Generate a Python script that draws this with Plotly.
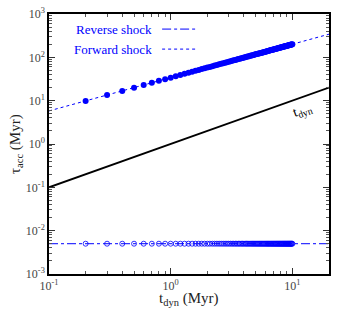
import plotly.graph_objects as go

# ---- data ----
t_points = [0.2, 0.3, 0.4, 0.5, 0.6, 0.7, 0.8, 0.9, 1.0,
            1.1, 1.2, 1.3, 1.4, 1.5, 1.6, 1.7, 1.8, 1.9, 2.0,
            2.1, 2.2, 2.3, 2.4, 2.5, 2.6, 2.7, 2.8, 2.9, 3.0,
            3.1, 3.2, 3.3, 3.4, 3.5, 3.6, 3.7, 3.8, 3.9, 4.0,
            4.1, 4.2, 4.3, 4.4, 4.5, 4.6, 4.7, 4.8, 4.9, 5.0,
            5.1, 5.2, 5.3, 5.4, 5.5, 5.6, 5.7, 5.8, 5.9, 6.0,
            6.1, 6.2, 6.3, 6.4, 6.5, 6.6, 6.7, 6.8, 6.9, 7.0,
            7.1, 7.2, 7.3, 7.4, 7.5, 7.6, 7.7, 7.8, 7.9, 8.0,
            8.1, 8.2, 8.3, 8.4, 8.5, 8.6, 8.7, 8.8, 8.9, 9.0,
            9.1, 9.2, 9.3, 9.4, 9.5, 9.6, 9.7, 9.8, 9.9, 10.0]

tau_forward = [9.85, 13.45, 16.79, 19.94, 22.95, 25.84, 28.63, 31.35, 34.0,
               36.59, 39.12, 41.61, 44.06, 46.46, 48.83, 51.16, 53.46, 55.74, 57.98,
               60.20, 62.40, 64.57, 66.72, 68.85, 70.96, 73.06, 75.13, 77.18, 79.22,
               81.25, 83.26, 85.25, 87.24, 89.21, 91.16, 93.11, 95.05, 96.97, 98.88,
               100.8, 102.7, 104.5, 106.4, 108.3, 110.1, 112.0, 113.8, 115.6, 117.4,
               119.2, 121.0, 122.8, 124.6, 126.3, 128.1, 129.9, 131.6, 133.4, 135.1,
               136.8, 138.6, 140.3, 142.0, 143.7, 145.4, 147.1, 148.8, 150.4, 152.1,
               153.8, 155.5, 157.1, 158.8, 160.4, 162.1, 163.7, 165.3, 167.0, 168.6,
               170.2, 171.8, 173.5, 175.0, 176.7, 178.3, 179.8, 181.4, 183.0, 184.6,
               186.2, 187.8, 189.3, 190.9, 192.4, 194.0, 195.5, 197.1, 198.6, 200.2]

tau_reverse = [0.005] * len(t_points)

t_line = [0.1, 20]
tau_forward_line = [5.8, 342]
tau_reverse_line = [0.005, 0.005]
tau_tdyn_line = [0.1, 20]

x_tickvals = [0.1, 1, 10]
x_ticktext = ["10<sup>-1</sup>", "10<sup>0</sup>", "10<sup>1</sup>"]
y_tickvals = [1e-3, 1e-2, 1e-1, 1, 10, 100, 1000]
y_ticktext = ["10<sup>-3</sup>", "10<sup>-2</sup>", "10<sup>-1</sup>", "10<sup>0</sup>",
              "10<sup>1</sup>", "10<sup>2</sup>", "10<sup>3</sup>"]
minor_mult = [2, 3, 4, 5, 6, 7, 8, 9]
x_minor = [m * d for d in [0.1, 1, 10] for m in minor_mult]
y_minor = [m * d for d in [1e-3, 1e-2, 1e-1, 1, 10, 100] for m in minor_mult]

BLUE = "#0000ff"
FONT = "Liberation Serif"

fig = go.Figure()

fig.add_trace(go.Scatter(x=t_line, y=tau_tdyn_line, mode="lines",
                         line=dict(color="black", width=1.8), showlegend=False))
fig.add_trace(go.Scatter(x=t_line, y=tau_forward_line, mode="lines",
                         line=dict(color=BLUE, width=1, dash="dot"), showlegend=False))
fig.add_trace(go.Scatter(x=t_line, y=tau_reverse_line, mode="lines",
                         line=dict(color=BLUE, width=1, dash="dashdot"), showlegend=False))
fig.add_trace(go.Scatter(x=t_points, y=tau_forward, mode="markers",
                         marker=dict(color=BLUE, size=6, symbol="circle"), showlegend=False))
fig.add_trace(go.Scatter(x=t_points, y=tau_reverse, mode="markers",
                         marker=dict(color=BLUE, size=5, symbol="circle-open", line=dict(width=0.8)),
                         showlegend=False))

axis_common = dict(
    type="log", showline=True, linecolor="black", linewidth=1.5, mirror="allticks",
    ticks="inside", ticklen=6, tickwidth=1, tickcolor="#333",
    showgrid=False, zeroline=False, automargin=False,
    tickfont=dict(family=FONT, size=12, color="#444"),
)

fig.update_xaxes(**axis_common, range=[-1, 1.30103],
                 tickvals=x_tickvals, ticktext=x_ticktext,
                 minor=dict(tickmode="array", tickvals=x_minor, ticks="inside", ticklen=3,
                            tickwidth=1, tickcolor="#555", showgrid=False))
fig.update_yaxes(**axis_common, range=[-3, 3],
                 tickvals=y_tickvals, ticktext=y_ticktext,
                 minor=dict(tickmode="array", tickvals=y_minor, ticks="inside", ticklen=3,
                            tickwidth=1, tickcolor="#555", showgrid=False))

# axis titles
fig.add_annotation(xref="paper", yref="paper", x=0.5, y=-0.098, yanchor="middle",
                   text="t<sub>dyn</sub> (Myr)", showarrow=False,
                   font=dict(family=FONT, size=15, color="#222"))
fig.add_annotation(xref="paper", yref="paper", x=-0.118, y=0.5, xanchor="center",
                   text="τ<sub>acc</sub> (Myr)", showarrow=False, textangle=-90,
                   font=dict(family=FONT, size=15, color="#222"))

# legend (text on the left, sample on the right)
fig.add_annotation(xref="paper", yref="paper", x=0.375, y=0.942, text="Reverse shock",
                   showarrow=False, xanchor="right", yanchor="middle",
                   font=dict(family=FONT, size=13, color=BLUE))
fig.add_annotation(xref="paper", yref="paper", x=0.375, y=0.865, text="Forward shock",
                   showarrow=False, xanchor="right", yanchor="middle",
                   font=dict(family=FONT, size=13, color=BLUE))
fig.add_shape(type="line", xref="paper", yref="paper", x0=0.404, x1=0.529, y0=0.942, y1=0.942,
              line=dict(color=BLUE, width=1, dash="dashdot"))
fig.add_shape(type="line", xref="paper", yref="paper", x0=0.404, x1=0.529, y0=0.865, y1=0.865,
              line=dict(color=BLUE, width=1, dash="dot"))

fig.add_annotation(x=1.08, y=0.78, xref="x", yref="y", text="t<sub>dyn</sub>", showarrow=False,
                   textangle=-20, font=dict(family=FONT, size=14, color="black"))

fig.update_layout(width=346, height=312, margin=dict(l=49, r=17, t=14, b=38),
                  plot_bgcolor="white", paper_bgcolor="white", showlegend=False)

fig.write_html("out.html", config={"displayModeBar": False},
               post_script="document.body.style.margin='0';document.body.style.padding='0';")
